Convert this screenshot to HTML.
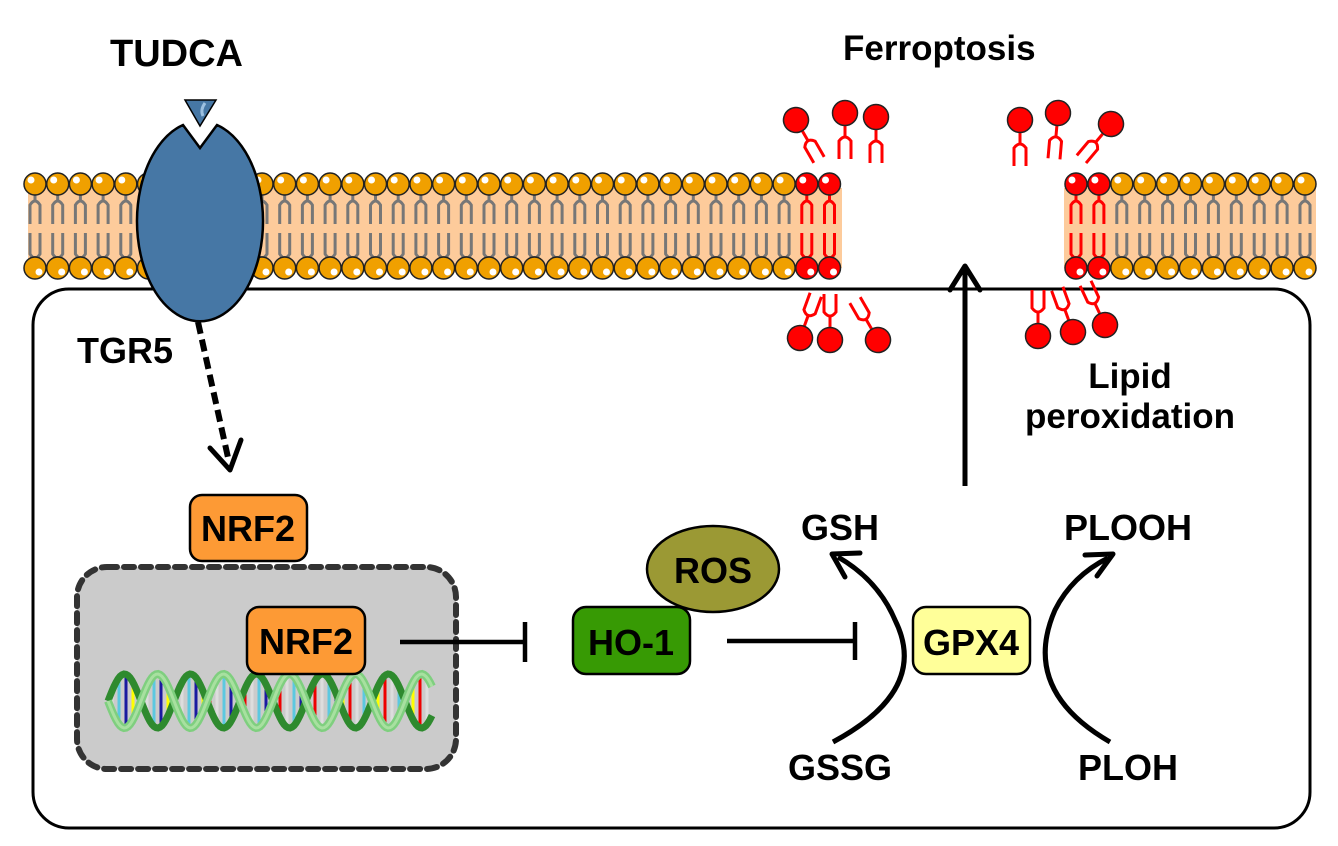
<!DOCTYPE html>
<html><head><meta charset="utf-8"><style>
html,body{margin:0;padding:0;background:#fff;}
svg{display:block;}
text{font-family:"Liberation Sans",sans-serif;font-weight:bold;fill:#000;}
</style></head><body>
<svg id="s" width="1338" height="846" viewBox="0 0 1338 846" xmlns="http://www.w3.org/2000/svg">
<rect x="33" y="289" width="1277" height="539" rx="36" fill="#fff" stroke="#000" stroke-width="3"/>
<rect x="28" y="188" width="814" height="80" fill="#fdcb9b"/>
<rect x="1064" y="188" width="252" height="80" fill="#fdcb9b"/>
<g id="lip"></g>
<path d="M183,125 L200,148 L217,125 A63,100 0 1 1 183,125 Z" fill="#4677a5" stroke="#000" stroke-width="2.5"/>
<polygon points="185,100 216,100 200,126" fill="#4677a5" stroke="#000" stroke-width="1.5"/>
<path d="M205,103 Q200,110 203,116" stroke="#9cc0e0" stroke-width="3" fill="none"/>
<text x="110" y="66" font-size="38">TUDCA</text>
<text x="77" y="363" font-size="36">TGR5</text>
<text x="843" y="60" font-size="35">Ferroptosis</text>
<text x="1130" y="388" font-size="35" text-anchor="middle">Lipid</text>
<text x="1130" y="428" font-size="35" text-anchor="middle">peroxidation</text>
<line x1="198" y1="322" x2="229" y2="462" stroke="#000" stroke-width="6" stroke-dasharray="12,6"/>
<polyline points="210,448 230,470 241,440" fill="none" stroke="#000" stroke-width="5" stroke-linecap="round" stroke-linejoin="round"/>
<rect x="190" y="495" width="117" height="66" rx="12" fill="#fd9a35" stroke="#000" stroke-width="2.5"/>
<text x="248" y="541" font-size="36" text-anchor="middle">NRF2</text>
<rect x="77" y="567" width="379" height="202" rx="30" fill="#cbcbcb" stroke="#333" stroke-width="6" stroke-dasharray="10,7" stroke-linecap="round"/>
<g id="dna"></g>
<rect x="247" y="607" width="118" height="67" rx="12" fill="#fd9a35" stroke="#000" stroke-width="2.5"/>
<text x="306" y="654" font-size="36" text-anchor="middle">NRF2</text>
<line x1="400" y1="642" x2="525" y2="642" stroke="#000" stroke-width="4.5"/>
<line x1="525" y1="622" x2="525" y2="662" stroke="#000" stroke-width="4.5"/>
<ellipse cx="713" cy="569" rx="66" ry="43" fill="#9b9934" stroke="#000" stroke-width="2.5"/>
<text x="713" y="583" font-size="36" text-anchor="middle">ROS</text>
<rect x="573" y="607" width="117" height="67" rx="13" fill="#379a04" stroke="#000" stroke-width="2.5"/>
<text x="631" y="655" font-size="36" text-anchor="middle">HO-1</text>
<line x1="727" y1="641" x2="855" y2="641" stroke="#000" stroke-width="4.5"/>
<line x1="855" y1="622" x2="855" y2="660" stroke="#000" stroke-width="4.5"/>
<rect x="913" y="607" width="117" height="67" rx="13" fill="#ffff99" stroke="#000" stroke-width="2.5"/>
<text x="971" y="655" font-size="36" text-anchor="middle">GPX4</text>
<text x="840" y="540" font-size="36" text-anchor="middle">GSH</text>
<text x="840" y="780" font-size="36" text-anchor="middle">GSSG</text>
<path d="M833,742 Q930,690 895,620 Q878,580 838,557" fill="none" stroke="#000" stroke-width="5"/>
<polyline points="860,553 832,554 845,577" fill="none" stroke="#000" stroke-width="5" stroke-linecap="round" stroke-linejoin="round"/>
<text x="1128" y="540" font-size="36" text-anchor="middle">PLOOH</text>
<text x="1128" y="780" font-size="36" text-anchor="middle">PLOH</text>
<path d="M1110,742 Q1020,690 1055,610 Q1072,576 1108,558" fill="none" stroke="#000" stroke-width="5"/>
<polyline points="1085,555 1113,554 1097,576" fill="none" stroke="#000" stroke-width="5" stroke-linecap="round" stroke-linejoin="round"/>
<line x1="965" y1="486" x2="965" y2="268" stroke="#000" stroke-width="5"/>
<polyline points="950,290 965,266 980,290" fill="none" stroke="#000" stroke-width="5" stroke-linecap="round" stroke-linejoin="round"/>
</svg>
<script>
var NS="http://www.w3.org/2000/svg";
function el(p,t,a){var e=document.createElementNS(NS,t);for(var k in a)e.setAttribute(k,a[k]);p.appendChild(e);return e;}
var g=document.getElementById('lip');
function lipid(x,red){
  var c=red?'#f00':'#777';
  var hc=red?'#f00':'#f0a000';
  el(g,'line',{x1:x,y1:190,x2:x,y2:202,stroke:c,'stroke-width':3});
  el(g,'path',{d:'M'+(x-5)+',224 L'+(x-5)+',205 Q'+x+',197 '+(x+5)+',205 L'+(x+5)+',224',fill:'none',stroke:c,'stroke-width':3});
  el(g,'path',{d:'M'+(x-5)+',233 L'+(x-5)+',254 Q'+x+',262 '+(x+5)+',254 L'+(x+5)+',233',fill:'none',stroke:c,'stroke-width':3});
  el(g,'line',{x1:x,y1:256,x2:x,y2:266,stroke:c,'stroke-width':3});
  el(g,'circle',{cx:x,cy:184,r:11,fill:hc,stroke:'#222','stroke-width':1.5});
  el(g,'circle',{cx:x-4,cy:180,r:3.5,fill:'#fff'});
  el(g,'circle',{cx:x,cy:268,r:11,fill:hc,stroke:'#222','stroke-width':1.5});
  el(g,'circle',{cx:x+4,cy:272,r:3.5,fill:'#fff'});
}
for(var i=0;i<36;i++){var x=35+i*22.7; if(x>845)break; lipid(x, x>800);}
for(var i=0;i<11;i++){var x=1076+i*22.9; if(x>1310)break; lipid(x, i<2);}
function free(hx,hy,ang){
  var gg=el(g,'g',{transform:'translate('+hx+','+hy+') rotate('+(-ang)+')'});
  var d=(hy<200)?1:-1;
  el(gg,'line',{x1:0,y1:d*12,x2:0,y2:d*24,stroke:'#f00','stroke-width':3});
  el(gg,'path',{d:'M-6,'+(d*46)+' L-6,'+(d*28)+' Q0,'+(d*20)+' 6,'+(d*28)+' L6,'+(d*46),fill:'none',stroke:'#f00','stroke-width':3});
  el(gg,'circle',{cx:0,cy:0,r:12.5,fill:'#f00',stroke:'#222','stroke-width':1.5});
}
free(796,120,30);free(845,113,0);free(876,117,0);
free(1020,120,0);free(1058,113,-5);free(1111,124,-40);
free(800,338,-20);free(830,340,0);free(878,340,30);
free(1038,336,0);free(1073,332,20);free(1105,325,25);
var dg=document.getElementById('dna');
var cols=['#e00','#ff0','#1a1aa0','#5cc8e0','#ddd'];
for(var x=112;x<430;x+=7){
  var ph=(x-108)/66*2*Math.PI;
  var y1=701+27*Math.sin(ph), y2=701-27*Math.sin(ph);
  var c=cols[(x*7)%5];
  el(dg,'line',{x1:x,y1:Math.min(y1,y2),x2:x,y2:Math.max(y1,y2),stroke:c,'stroke-width':3});
}
function strand(off,col,w){
  var d='';
  for(var x=108;x<=432;x+=2){var y=701+27*Math.sin((x-108)/66*2*Math.PI+off);d+=(x==108?'M':'L')+x+','+y.toFixed(1);}
  el(dg,'path',{d:d,fill:'none',stroke:col,'stroke-width':w});
}
strand(Math.PI,'#2e8a2e',7);strand(0,'#7fcf7f',8);strand(0,'#a8e0a0',3);
</script>
</body></html>
